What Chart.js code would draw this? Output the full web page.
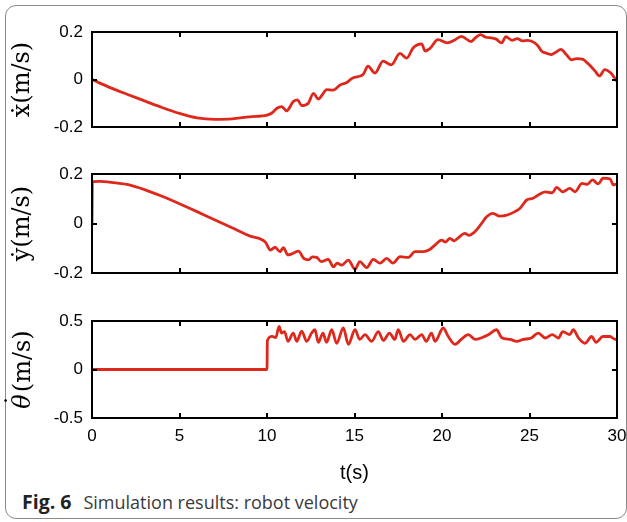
<!DOCTYPE html>
<html>
<head>
<meta charset="utf-8">
<script src="https://cdn.jsdelivr.net/npm/chart.js@4.4.1/dist/chart.umd.min.js"></script>
<style>
  html, body { margin: 0; padding: 0; background: #fff; }
  body { width: 627px; height: 522px; position: relative; overflow: hidden; }
  .frame {
    position: absolute; left: 5px; top: 5px; width: 622px; height: 514px;
    border: 1.5px solid #8a8a8a; border-radius: 11px; box-sizing: border-box;
  }
  canvas { position: absolute; left: 0; }
  .caption {
    position: absolute; left: 22px; top: 488px;
    font-family: "Open Sans", sans-serif; font-size: 18px; color: #3a3a3a;
  }
  .caption b { color: #222; font-weight: 700; font-size: 19.5px; margin-right: 12px; }
</style>
</head>
<body>
<div class="frame"></div>
<canvas id="cx" width="627" height="140" style="top:0px"></canvas>
<canvas id="cy" width="627" height="145" style="top:140px"></canvas>
<canvas id="ct" width="627" height="200" style="top:285px"></canvas>
<div class="caption"><b>Fig. 6</b>Simulation results: robot velocity</div>
<script>
const tX = [0, 1, 2, 3, 4, 5, 6, 7, 8, 9, 10, 10.3, 10.55, 10.84, 11.12, 11.5, 11.75, 11.98, 12.36, 12.65,
  12.93, 13.2, 13.4, 13.77, 14.2, 14.5, 14.9, 15.2, 15.5, 15.77, 16.17, 16.63, 17.1, 17.6, 17.98, 18.35,
  18.84, 19.03, 19.3, 19.77, 20.3, 20.7, 21.1, 21.4, 21.67, 21.9, 22.2, 22.5, 22.8, 23.1, 23.4, 23.65,
  24.0, 24.3, 24.6, 24.9, 25.3, 25.5, 25.7, 26.0, 26.25, 26.5, 26.8, 27.1, 27.4, 27.7, 28.06, 28.3,
  28.5, 28.75, 29.0, 29.3, 29.65, 30];
const vX = [0, -0.033, -0.062, -0.09, -0.118, -0.143, -0.162, -0.168, -0.166, -0.157, -0.15, -0.14, -0.122,
  -0.114, -0.132, -0.093, -0.086, -0.11, -0.1, -0.058, -0.082, -0.06, -0.043, -0.045, -0.022, -0.015,
  0.006, 0.012, 0.022, 0.056, 0.027, 0.077, 0.062, 0.11, 0.09, 0.133, 0.15, 0.12, 0.13, 0.168, 0.154,
  0.165, 0.182, 0.17, 0.16, 0.175, 0.189, 0.178, 0.175, 0.17, 0.154, 0.18, 0.165, 0.172, 0.163, 0.165,
  0.154, 0.14, 0.119, 0.11, 0.105, 0.115, 0.127, 0.105, 0.083, 0.088, 0.085, 0.07, 0.056, 0.035, 0.015,
  0.042, 0.027, -0.008];

const tY = [0, 0.02, 0.5, 1, 2, 3, 4, 5, 6, 7, 8, 9, 9.9, 10.2, 10.46, 10.74, 10.93, 11.2, 11.5, 11.8,
  12.1, 12.37, 12.6, 12.84, 13.1, 13.5, 13.8, 14.0, 14.27, 14.65, 15.03, 15.3, 15.7, 16.07, 16.46, 16.84,
  17.2, 17.6, 18.07, 18.46, 18.93, 19.3, 19.6, 19.98, 20.2, 20.45, 20.7, 20.93, 21.3, 21.55, 21.8, 22.2,
  22.55, 22.9, 23.3, 23.7, 24.17, 24.45, 24.84, 25.2, 25.6, 25.9, 26.3, 26.55, 26.9, 27.3, 27.6, 28.0,
  28.3, 28.6, 28.93, 29.2, 29.6, 29.8, 30];
const vY = [0, 0.169, 0.17, 0.167, 0.158, 0.137, 0.11, 0.08, 0.048, 0.015, -0.017, -0.05, -0.075, -0.107,
  -0.096, -0.114, -0.098, -0.127, -0.12, -0.112, -0.141, -0.147, -0.135, -0.137, -0.154, -0.145, -0.175,
  -0.16, -0.168, -0.148, -0.185, -0.154, -0.178, -0.145, -0.16, -0.141, -0.16, -0.134, -0.137, -0.114,
  -0.114, -0.105, -0.087, -0.067, -0.075, -0.06, -0.07, -0.058, -0.04, -0.048, -0.038, -0.006, 0.027,
  0.041, 0.03, 0.034, 0.048, 0.061, 0.095, 0.102, 0.119, 0.128, 0.124, 0.146, 0.128, 0.142, 0.128, 0.162,
  0.158, 0.176, 0.16, 0.183, 0.18, 0.156, 0.16];

const tT = [0, 10, 10.02, 10.3, 10.5, 10.69, 10.83, 11.0, 11.2, 11.5, 11.7, 11.98, 12.27, 12.55, 12.74,
  12.93, 13.2, 13.4, 13.7, 13.98, 14.36, 14.65, 15.03, 15.3, 15.6, 15.98, 16.36, 16.65, 17.0, 17.3, 17.5,
  17.8, 18.17, 18.46, 18.84, 19.1, 19.4, 19.6, 20.07, 20.36, 20.74, 21.1, 21.5, 21.9, 22.3, 22.67, 23.12,
  23.4, 23.9, 24.27, 24.65, 25.1, 25.5, 25.9, 26.3, 26.65, 26.9, 27.3, 27.5, 27.8, 28.17, 28.55, 28.8,
  29.2, 29.6, 29.9, 30];
const vT = [0, 0, 0.297, 0.342, 0.33, 0.445, 0.376, 0.39, 0.29, 0.376, 0.29, 0.395, 0.29, 0.376, 0.41,
  0.28, 0.376, 0.28, 0.41, 0.27, 0.428, 0.26, 0.41, 0.31, 0.36, 0.29, 0.39, 0.3, 0.376, 0.31, 0.41, 0.29,
  0.36, 0.31, 0.36, 0.29, 0.376, 0.29, 0.428, 0.34, 0.26, 0.31, 0.36, 0.31, 0.33, 0.36, 0.41, 0.33, 0.31,
  0.29, 0.31, 0.325, 0.376, 0.325, 0.36, 0.325, 0.39, 0.36, 0.41, 0.325, 0.27, 0.34, 0.28, 0.34, 0.34,
  0.31, 0.32];

const xTicks = [0, 5, 10, 15, 20, 25, 30];
const lineColor = 'rgb(222, 40, 28)';
const serif = '"DejaVu Serif", serif';

const boxTicks = {
  id: 'boxTicks',
  afterDraw(chart) {
    const { ctx, chartArea: a, scales: { x, y } } = chart;
    ctx.save();
    ctx.strokeStyle = '#000';
    ctx.lineWidth = 2;
    ctx.strokeRect(a.left, a.top, a.width, a.height);
    ctx.beginPath();
    x.ticks.forEach((t) => {
      const px = Math.round(x.getPixelForValue(t.value));
      ctx.moveTo(px, a.top); ctx.lineTo(px, a.top + 5);
      ctx.moveTo(px, a.bottom); ctx.lineTo(px, a.bottom - 5);
    });
    y.ticks.forEach((t) => {
      const py = Math.round(y.getPixelForValue(t.value));
      ctx.moveTo(a.left, py); ctx.lineTo(a.left + 5, py);
      ctx.moveTo(a.right, py); ctx.lineTo(a.right - 5, py);
    });
    ctx.stroke();
    ctx.restore();
  },
};

// theta-dot label: italic theta with a dot over it, then upright (m/s)
const thetaTitle = {
  id: 'thetaTitle',
  afterDraw(chart) {
    const { ctx, chartArea: a } = chart;
    const italic = 'italic 24px ' + serif;
    const upright = '24px ' + serif;
    ctx.save();
    ctx.translate(30, (a.top + a.bottom) / 2);
    ctx.rotate(-Math.PI / 2);
    ctx.fillStyle = '#000';
    ctx.textBaseline = 'alphabetic';
    ctx.font = italic;
    const w1 = ctx.measureText('θ').width;
    ctx.font = upright;
    const w2 = ctx.measureText('(m/s)').width;
    const x0 = -(w1 + w2 + 2) / 2;
    ctx.font = italic;
    ctx.fillText('θ', x0, 0);
    ctx.font = upright;
    ctx.textAlign = 'center';
    ctx.fillText('˙', x0 + w1 / 2 + 1, -7);
    ctx.textAlign = 'left';
    ctx.fillText('(m/s)', x0 + w1 + 2, 0);
    ctx.restore();
  },
};

function makeChart(id, ts, vs, yLim, yTitle, padTop, padBottom, showX) {
  const tickFont = { family: '"Liberation Sans", Arial, sans-serif', size: 17 };
  return new Chart(document.getElementById(id), {
    type: 'line',
    data: {
      datasets: [{
        data: ts.map((t, i) => ({ x: t, y: vs[i] })),
        borderColor: lineColor,
        borderWidth: 2.8,
        pointRadius: 0,
        cubicInterpolationMode: 'monotone',
        borderJoinStyle: 'round',
      }],
    },
    options: {
      responsive: false,
      devicePixelRatio: 1,
      animation: false,
      layout: { padding: { top: padTop, bottom: 0, left: 0, right: 10 } },
      plugins: { legend: { display: false }, tooltip: { enabled: false } },
      scales: {
        x: {
          type: 'linear',
          min: 0,
          max: 30,
          afterBuildTicks: (s) => { s.ticks = xTicks.map((v) => ({ value: v })); },
          grid: { display: false, drawTicks: false },
          border: { display: false },
          ticks: { display: showX, padding: 8, color: '#000', font: tickFont },
          title: {
            display: showX,
            text: 't(s)',
            color: '#000',
            font: { family: '"Liberation Sans", Arial, sans-serif', size: 20 },
            padding: { top: 0, bottom: 0 },
          },
          afterFit: (s) => {
            s.height = padBottom;
            s.paddingLeft = 0;
            s.paddingRight = 0;
          },
        },
        y: {
          min: -yLim,
          max: yLim,
          afterBuildTicks: (s) => { s.ticks = [-yLim, 0, yLim].map((v) => ({ value: v })); },
          grid: { display: false, drawTicks: false },
          border: { display: false },
          ticks: { padding: 9, color: '#000', font: tickFont },
          title: {
            display: !!yTitle,
            text: yTitle,
            color: '#000',
            font: { family: serif, size: 24 },
            padding: { top: 8, bottom: 0 },
          },
          afterFit: (s) => {
            s.width = 92;
            s.paddingTop = 0;
            s.paddingBottom = 0;
          },
        },
      },
    },
    plugins: yTitle ? [boxTicks] : [boxTicks, thetaTitle],
  });
}

makeChart('cx', tX, vX, 0.2, 'ẋ(m/s)', 32, 13, false);
makeChart('cy', tY, vY, 0.2, 'ẏ(m/s)', 34, 12, false);
makeChart('ct', tT, vT, 0.5, '', 36, 67, true);
</script>
</body>
</html>
